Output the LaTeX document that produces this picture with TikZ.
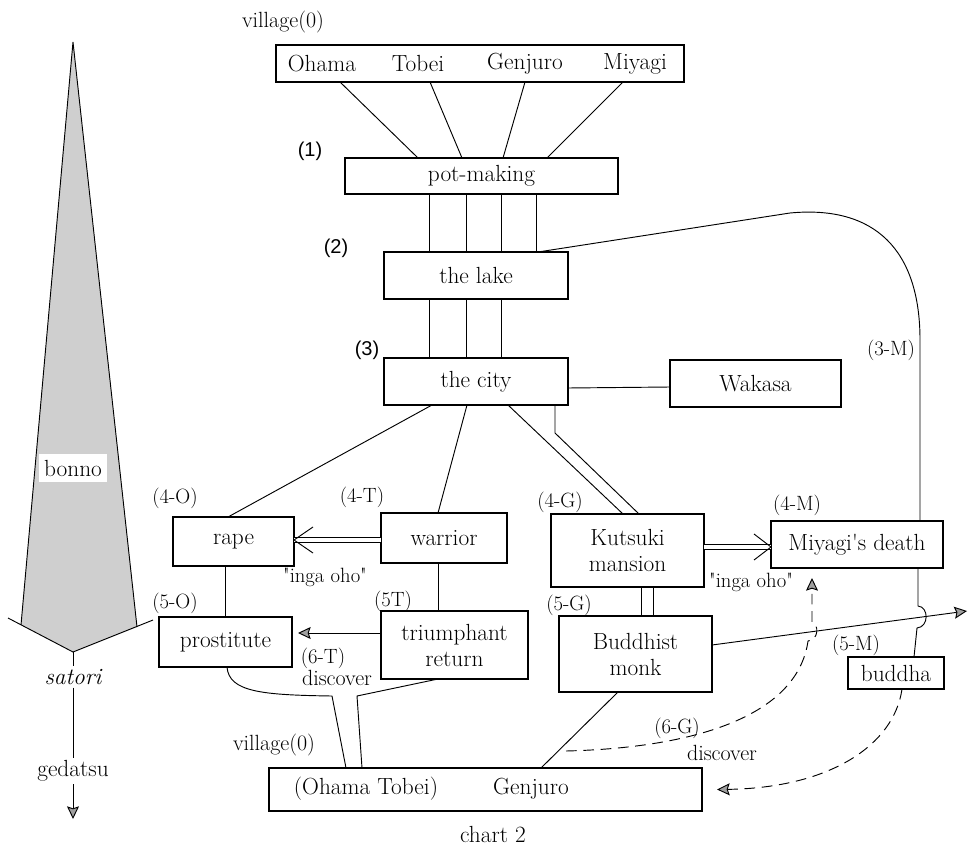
\documentclass[tikz,border=0pt]{standalone}
\usepackage{fontspec}
\newfontfamily\sansf{Liberation Sans}
\usetikzlibrary{arrows.meta,calc}
\tikzset{
  bx/.style={draw, line width=0.8pt, inner sep=0pt, outer sep=0pt, align=center, font=\fontsize{17.5}{19.5}\selectfont},
  txt/.style={inner sep=0pt, font=\fontsize{17.5}{19.5}\selectfont},
  lbl/.style={inner sep=0pt, font=\fontsize{15.5}{17}\selectfont},
  lblb/.style={inner sep=0pt, font=\fontsize{16.5}{18}\selectfont},
  num/.style={inner sep=0pt, font=\sansf\fontsize{15}{17}\selectfont},
  ln/.style={line width=0.7pt},
  garrow/.style={-{Stealth[length=9.5pt,width=9pt,inset=1.5pt,fill=gray!75,color=black]}},
  dsh/.style={dash pattern=on 8pt off 5pt}
}
\newcommand\bx[6]{\node[bx, minimum width={(#4-#2)*0.75pt}, minimum height={(#5-#3)*0.75pt}] (#1) at ({(#2+#4)/2},{(#3+#5)/2}) {#6};}
\begin{document}
\begin{tikzpicture}[x=0.75pt,y=-0.75pt]
\useasboundingbox (0,0) rectangle (969,848);

% ---- left figure
\fill[gray!38] (73,42) -- (21,625) -- (73,652) -- (137,627) -- cycle;
\draw[ln] (21,625) -- (73,42) -- (137,627);
\draw[ln] (8,618) coordinate (wl) -- (73,652) coordinate (wb) -- (153,620) coordinate (wr);
\node[txt, fill=white, inner xsep=4pt, inner ysep=4pt] (bonno) at (73,468) {bonno};
\node[txt, inner sep=2pt] (satori) at (73,677) {\itshape satori};
\node[txt, inner sep=2pt] (gedatsu) at (73,771) {gedatsu};
\coordinate (gend) at (73,819);
\draw[ln] (wb) -- (satori);
\draw[ln] (satori) -- (gedatsu);
\draw[ln, garrow] (gedatsu) -- (gend);

% ---- boxes
\bx{top}{276}{45}{684}{82}{}
\node[txt] (ohama) at (322,64) {Ohama};
\node[txt] (tobei) at (418,64) {Tobei};
\node[txt] (genj) at (525,64) {Genjuro};
\node[txt] (miya) at (635,64) {Miyagi};
\bx{pot}{345}{158}{618}{194}{pot-making}
\bx{lake}{384}{252}{568}{299}{the lake}
\bx{city}{384}{358}{568}{405}{the city}
\bx{wakasa}{670}{360}{841}{407}{Wakasa}
\bx{rape}{173}{517}{294}{566}{rape}
\bx{warrior}{381}{513}{507}{563}{warrior}
\bx{kutsuki}{551}{514}{704}{587}{Kutsuki\\mansion}
\bx{miyagi}{771}{521}{943}{568}{Miyagi\textquotesingle s death}
\bx{prost}{159}{617}{292}{667}{prostitute}
\bx{triumph}{381}{611}{528}{679}{triumphant\\return}
\bx{monk}{559}{616}{712}{692}{Buddhist\\monk}
\bx{buddha}{848}{657}{944}{689}{buddha}
\bx{bottom}{269}{768}{702}{811}{}
\node[txt] (ot) at (366,789) {(Ohama Tobei)};
\node[txt] (gj) at (531,789) {Genjuro};

% ---- labels
\node[lblb] (v0) at (283,22) {village(0)};
\node[num] (l1) at (310,151) {(1)};
\node[num] (l2) at (336,248) {(2)};
\node[num] (l3) at (367,350) {(3)};
\node[lbl] (l3m) at (891,350) {(3-M)};
\node[lbl] (l4o) at (175,498) {(4-O)};
\node[lbl] (l4t) at (362,497) {(4-T)};
\node[lbl] (l4g) at (560,502) {(4-G)};
\node[lbl] (l4m) at (797,505) {(4-M)};
\node[lbl] (l5o) at (175,603) {(5-O)};
\node[lbl] (l5t) at (393,601) {(5T)};
\node[lbl] (l5g) at (569,605) {(5-G)};
\node[lbl] (l5m) at (856,645) {(5-M)};
\node[lbl] (ig1) at (325,577) {\textquotedbl inga oho\textquotedbl};
\node[lbl] (ig2) at (751,582) {\textquotedbl inga oho\textquotedbl};
\node[lbl] (l6t) at (323,658) {(6-T)};
\node[lblb] (d6t) at (337,678) {discover};
\node[lbl] (l6g) at (677,728) {(6-G)};
\node[lblb] (d6g) at (722,753) {discover};
\node[lblb] (v0b) at (274,745) {village(0)};
\node[txt] (chart) at (493,834) {chart 2};

% ---- connectors
\draw[ln] (340,0 |- top.south) -- (418,0 |- pot.north);
\draw[ln] (430,0 |- top.south) -- (462,0 |- pot.north);
\draw[ln] (525,0 |- top.south) -- (503,0 |- pot.north);
\draw[ln] (623,0 |- top.south) -- (547,0 |- pot.north);
\foreach \x in {429,466,501,536} \draw[ln] (\x,0 |- pot.south) -- (\x,0 |- lake.north);
\foreach \x in {429,466,501} \draw[ln] (\x,0 |- lake.south) -- (\x,0 |- city.north);
% lake to Miyagi's death
\draw[ln] (538,0 |- lake.north) -- (790,213) .. controls (875,205) and (920,250) .. (920,340) -- (920,0 |- miyagi.north);
% Miyagi's death to buddha (with hop)
\draw[ln] (918,0 |- miyagi.south) -- (918,606) .. controls (929,607) and (929,627) .. (917,628) -- (914,0 |- buddha.north);
% city to Wakasa
\draw[ln] (city.east |- 0,388) -- (wakasa.west |- 0,387);
% city to rape, warrior
\draw[ln] (432,0 |- city.south) -- (228,0 |- rape.north);
\draw[ln] (467,0 |- city.south) -- (438,0 |- warrior.north);
% city to Kutsuki (double)
\draw[ln] (508,0 |- city.south) -- (623,0 |- kutsuki.north);
\draw[ln] (555,0 |- city.south) -- (555,433) -- (639,0 |- kutsuki.north);
% warrior => rape
\draw[ln, double, double distance=3pt] (warrior.west |- 0,540) -- (rape.east |- 0,540);
\draw[ln] ($(rape.east |- 0,540)+(19,-13)$) -- (rape.east |- 0,540) -- ($(rape.east |- 0,540)+(19,13)$);
% Kutsuki => Miyagi's death
\draw[ln, double, double distance=2.6pt] (kutsuki.east |- 0,547) -- (miyagi.west |- 0,547);
\draw[ln] ($(miyagi.west |- 0,547)+(-17,-13)$) -- (miyagi.west |- 0,547) -- ($(miyagi.west |- 0,547)+(-17,13)$);
% rape - prostitute, warrior - triumphant
\draw[ln] (225,0 |- rape.south) -- (225,0 |- prost.north);
\draw[ln] (438,0 |- warrior.south) -- (438,0 |- triumph.north);
% triumphant -> prostitute
\draw[ln, garrow] (triumph.west |- 0,633) -- ($(prost.east |- 0,633)+(6,0)$);
% Kutsuki - monk
\draw[ln] (641,0 |- kutsuki.south) -- (641,0 |- monk.north);
\draw[ln] (653,0 |- kutsuki.south) -- (653,0 |- monk.north);
% monk -> out
\coordinate (mout) at (967,611);
\draw[ln, garrow] (monk.east |- 0,645) -- (mout);
% to bottom box
\draw[ln] (227,0 |- prost.south) .. controls (229,692) and (262,695) .. (332,696) -- (346,0 |- bottom.north);
\draw[ln] (438,0 |- triumph.south) -- (357,696) -- (362,0 |- bottom.north);
\draw[ln] (618,0 |- monk.south) -- (541,0 |- bottom.north);
% dashed (6-G)
\coordinate (g6) at (566,751);
\draw[ln, dsh, garrow] (g6) .. controls (690,748) and (797,718) .. (808,641)
   .. controls (819,640) and (819,624) .. (812,622) -- ($(812,0 |- miyagi.south)+(0,10)$);
% dashed buddha -> bottom
\draw[ln, dsh, garrow] (902,0 |- buddha.south) .. controls (894,745) and (830,788) .. ($(bottom.east)+(15,0)$);
\end{tikzpicture}
\end{document}
